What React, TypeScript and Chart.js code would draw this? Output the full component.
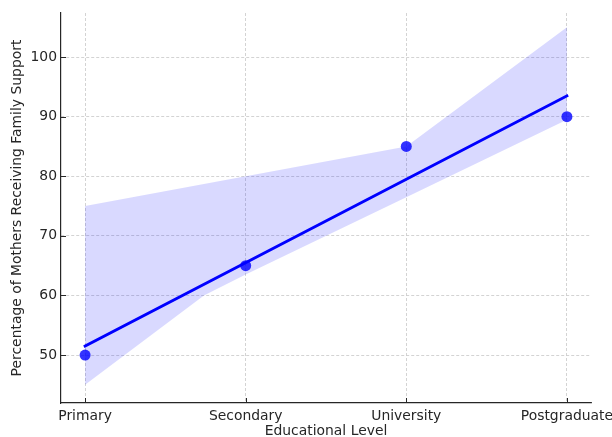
import React, { useEffect, useRef } from 'react';
import { Chart, registerables } from 'chart.js';

Chart.register(...registerables);

// Education levels on the x axis and the observed share of mothers with family support
const levels = ['Primary', 'Secondary', 'University', 'Postgraduate'];
const supportPct = [50, 65, 85, 90];

// 95% confidence band around the fitted line (edges sampled along the x axis)
const bandUpperX = [0, 1, 2, 3];
const bandUpperY = [75, 80, 85, 105];
const bandLowerX = [0, 0.74, 1, 2, 3];
const bandLowerY = [45, 60, 63.5, 76.5, 89.5];

const yTicks = [50, 60, 70, 80, 90, 100];

const FONT = 'DejaVu Sans';
const TEXT = '#262626';
const AXIS = '#262626';
const GRID = '#c8c8c8';

// least-squares fit over the level index
function fitLine(ys: number[]) {
  const n = ys.length;
  const xs = ys.map((_, i) => i);
  const mx = xs.reduce((a, b) => a + b, 0) / n;
  const my = ys.reduce((a, b) => a + b, 0) / n;
  let sxy = 0;
  let sxx = 0;
  xs.forEach((x, i) => {
    sxy += (x - mx) * (ys[i] - my);
    sxx += (x - mx) * (x - mx);
  });
  const slope = sxy / sxx;
  const intercept = my - slope * mx;
  return [0, n - 1].map((x) => ({ x, y: intercept + slope * x }));
}

// short tick marks pointing into the plot area
const innerTicks = {
  id: 'innerTicks',
  afterDraw(chart: any) {
    const { ctx, chartArea, scales } = chart;
    ctx.save();
    ctx.strokeStyle = AXIS;
    ctx.lineWidth = 1;
    ctx.beginPath();
    scales.x.ticks.forEach((t: any) => {
      const px = Math.round(scales.x.getPixelForValue(t.value)) + 0.5;
      ctx.moveTo(px, chartArea.bottom);
      ctx.lineTo(px, chartArea.bottom - 5);
    });
    scales.y.ticks.forEach((t: any) => {
      const py = Math.round(scales.y.getPixelForValue(t.value)) + 0.5;
      ctx.moveTo(chartArea.left, py);
      ctx.lineTo(chartArea.left + 5, py);
    });
    ctx.stroke();
    ctx.restore();
  },
};

export default function App() {
  const canvasRef = useRef<HTMLCanvasElement | null>(null);

  useEffect(() => {
    const canvas = canvasRef.current;
    if (!canvas) return;

    const chart = new Chart(canvas, {
      type: 'line',
      data: {
        datasets: [
          {
            label: 'upper',
            data: bandUpperX.map((x, i) => ({ x, y: bandUpperY[i] })),
            borderWidth: 0,
            pointRadius: 0,
            fill: '+1',
            backgroundColor: 'rgba(0, 0, 255, 0.15)',
            order: 3,
          },
          {
            label: 'lower',
            data: bandLowerX.map((x, i) => ({ x, y: bandLowerY[i] })),
            borderWidth: 0,
            pointRadius: 0,
            fill: false,
            order: 3,
          },
          {
            label: 'fit',
            data: fitLine(supportPct),
            borderColor: '#0000ff',
            borderWidth: 2.8,
            borderCapStyle: 'square',
            pointRadius: 0,
            fill: false,
            order: 1,
          },
          {
            type: 'scatter',
            label: 'observed',
            data: supportPct.map((y, i) => ({ x: i, y })),
            pointRadius: 5.5,
            pointBackgroundColor: 'rgba(0, 0, 255, 0.8)',
            pointBorderWidth: 0,
            showLine: false,
            order: 0,
          } as any,
        ],
      },
      options: {
        responsive: false,
        animation: false,
        layout: { padding: { top: 13, right: 21, left: 0, bottom: 0 } },
        plugins: {
          legend: { display: false },
          tooltip: { enabled: false },
        },
        scales: {
          x: {
            type: 'linear',
            min: -0.15,
            max: 3.15,
            afterBuildTicks: (s: any) => {
              s.ticks = levels.map((_, i) => ({ value: i }));
            },
            afterFit: (s: any) => {
              s.height = 34;
              s.paddingLeft = 0;
              s.paddingRight = 0;
            },
            ticks: {
              callback: (v: any) => levels[v as number],
              font: { family: FONT, size: 13.9 },
              color: TEXT,
              padding: 5,
              maxRotation: 0,
              autoSkip: false,
            },
            grid: { color: GRID, lineWidth: 0.8, drawTicks: false },
            border: { display: true, color: AXIS, width: 1.2, dash: [3, 2] },
            title: {
              display: true,
              text: 'Educational Level',
              font: { family: FONT, size: 13.9, lineHeight: 0.8 },
              color: TEXT,
              padding: { top: 0, bottom: 0 },
            },
          },
          y: {
            type: 'linear',
            min: 41.95,
            max: 107.4,
            afterBuildTicks: (s: any) => {
              s.ticks = yTicks.map((value) => ({ value }));
            },
            afterFit: (s: any) => {
              s.width = 61;
              s.paddingTop = 0;
              s.paddingBottom = 0;
            },
            ticks: {
              font: { family: FONT, size: 13.9 },
              color: TEXT,
              padding: 4,
            },
            grid: { color: GRID, lineWidth: 0.8, drawTicks: false },
            border: { display: true, color: AXIS, width: 1.2, dash: [3, 2] },
            title: {
              display: true,
              text: 'Percentage of Mothers Receiving Family Support',
              font: { family: FONT, size: 13.9, lineHeight: 0.8 },
              color: TEXT,
              padding: { top: 12, bottom: 0 },
            },
          },
        },
      },
      plugins: [innerTicks],
    } as any);

    return () => chart.destroy();
  }, []);

  return (
    <div style={{ position: 'fixed', left: 0, top: 0, width: 612, height: 437, background: '#fff' }}>
      <canvas ref={canvasRef} width={612} height={437} style={{ display: 'block' }} />
    </div>
  );
}
